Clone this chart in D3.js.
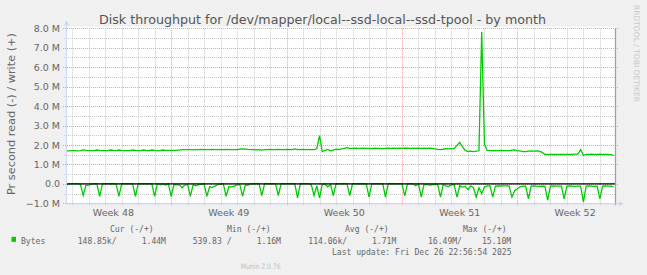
<!DOCTYPE html>
<html>
<head>
<meta charset="utf-8">
<script src="https://cdn.jsdelivr.net/npm/d3@7"></script>
<style>
  html, body { margin: 0; padding: 0; background: #f0f0f0; }
  svg { display: block; }
</style>
</head>
<body>
<div id="chart"></div>
<script>
//Samples every 4 hours, first one at 2025-11-23 16:00 UTC, values in MB/s
const sampleStart = Date.UTC(2025, 10, 23, 16);
const sampleStepHours = 4;

const writeValues = [
    1.71,1.70,1.71,1.71,1.70,1.71,1.75,1.72,1.71,1.71,
    1.71,1.74,1.72,1.71,1.71,1.71,1.74,1.72,1.71,1.74,
    1.72,1.71,1.71,1.71,1.74,1.72,1.71,1.71,1.74,1.71,
    1.71,1.74,1.72,1.71,1.71,1.74,1.72,1.72,1.72,1.72,
    1.72,1.74,1.76,1.76,1.76,1.76,1.75,1.76,1.76,1.77,
    1.76,1.76,1.76,1.77,1.76,1.76,1.76,1.76,1.77,1.76,
    1.76,1.76,1.76,1.79,1.80,1.79,1.77,1.76,1.76,1.75,
    1.76,1.74,1.76,1.76,1.77,1.76,1.76,1.77,1.76,1.76,
    1.77,1.76,1.76,1.80,1.76,1.76,1.77,1.76,1.76,1.76,
    1.76,1.80,2.48,1.66,1.72,1.77,1.70,1.74,1.78,1.76,
    1.80,1.82,1.86,1.82,1.82,1.83,1.82,1.82,1.83,1.82,
    1.82,1.81,1.83,1.82,1.82,1.81,1.82,1.83,1.82,1.84,
    1.82,1.83,1.82,1.84,1.83,1.82,1.83,1.82,1.84,1.82,
    1.83,1.82,1.83,1.82,1.80,1.77,1.76,1.78,1.81,1.80,
    1.81,1.82,1.98,2.14,1.90,1.72,1.66,1.68,1.66,1.68,
    1.70,7.82,2.05,1.72,1.71,1.71,1.71,1.71,1.72,1.71,
    1.71,1.71,1.74,1.75,1.70,1.70,1.66,1.66,1.68,1.69,
    1.68,1.69,1.68,1.62,1.52,1.52,1.51,1.51,1.52,1.51,
    1.51,1.52,1.51,1.52,1.52,1.53,1.53,1.76,1.47,1.51,
    1.52,1.53,1.52,1.52,1.53,1.52,1.52,1.51,1.50,1.46
];

//Read is drawn below zero
const readValues = [
    .05,0,0,0,0,.02,.59,.08,.06,.02,
    0,0,.64,0,0,0,0,0,.01,.64,
    0,0,0,0,0,.64,0,0,0,0,
    0,0,.64,0,.04,0,.06,0,.64,.04,
    .05,.05,.2,.06,.03,.64,.04,.1,.04,.03,
    0,.64,.15,.18,.12,.03,.02,0,.64,.15,
    .16,.12,.05,.03,.64,.06,.06,0,0,0,
    0,.6,0,0,0,0,0,.6,0,0,
    0,0,0,0,.72,0,0,0,0,.05,
    .6,.1,.72,.03,.02,.15,.03,.6,0,0,
    0,0,0,.6,0,0,0,0,0,0,
    .68,0,0,0,0,0,.68,0,0,0,
    0,0,0,.62,0,0,0,.1,0,.68,
    .03,.04,.06,.05,.03,.04,.68,.02,.12,.13,
    .05,.04,.68,.1,.17,.12,.3,.1,.2,.68,
    .2,.5,.15,.1,.1,.68,.12,.1,.11,.1,
    .1,.12,.68,.35,.25,.15,.12,.12,.77,.12,
    .1,.12,.13,.12,.13,.84,.12,.11,.12,.12,
    .12,.77,.12,.11,.12,.13,.12,.12,.93,.12,
    .11,.12,.13,.12,.77,.12,.11,.12,.12,.15
];

const yTicks = [-1, 0, 1, 2, 3, 4, 5, 6, 7, 8];
const yMinorTicks = [-0.5, 0.5, 1.5, 2.5, 3.5, 4.5, 5.5, 6.5, 7.5];

const legendHeaders = ["Cur (-/+)", "Min (-/+)", "Avg (-/+)", "Max (-/+)"];
const legendSeries = "Bytes";
const legendValues = ["148.85k/", "1.44M", "539.83 /", "1.16M", "114.06k/", "1.71M", "16.49M/", "15.10M"];
const lastUpdate = "Last update: Fri Dec 26 22:56:54 2025";

const titleText = "Disk throughput for /dev/mapper/local--ssd-local--ssd-tpool - by month";
const yLabel = "Pr second read (-) / write (+)";

const lineColor = "#00cc00";
const textColor = "#666666";
const axisColor = "#cfd6f8";

const width = 647, height = 275;
const plot = { left: 66, right: 615, top: 28.3, bottom: 203.3 };

const writeData = writeValues.map((v, i) => ({ t: new Date(sampleStart + i * sampleStepHours * 3600e3), v: v }));
const readData = readValues.map((v, i) => ({ t: new Date(sampleStart + i * sampleStepHours * 3600e3), v: -v }));

const svg = d3.select("#chart").append("svg")
    .attr("width", width)
    .attr("height", height)
    .style("font-family", "'DejaVu Sans', sans-serif");

svg.append("rect").attr("width", width).attr("height", height).attr("fill", "#f0f0f0");

var x = d3.scaleUtc()
    .domain([new Date(Date.UTC(2025, 10, 23, 15)), new Date(Date.UTC(2025, 11, 26, 22))])
    .range([plot.left, plot.right]);

var y = d3.scaleLinear()
    .domain([-1, 8])
    .range([plot.bottom, plot.top]);

//White canvas
svg.append("rect")
    .attr("x", plot.left).attr("y", plot.top - 1.5)
    .attr("width", plot.right - plot.left).attr("height", plot.bottom - plot.top + 1.5)
    .attr("fill", "#ffffff");

svg.append("clipPath").attr("id", "plotclip")
    .append("rect")
    .attr("x", plot.left).attr("y", plot.top - 4)
    .attr("width", plot.right - plot.left).attr("height", plot.bottom - plot.top + 4);

//Grid: minor (days, half millions) grey, major (weeks, millions) red
const days = d3.utcDay.range(x.domain()[0], x.domain()[1]);
const weeks = d3.utcSunday.range(x.domain()[0], x.domain()[1]);
const grid = svg.append("g").attr("fill", "none").attr("stroke-dasharray", "1,1");

grid.selectAll(".vminor").data(days.filter(d => d.getUTCDay() !== 0)).enter().append("line")
    .attr("x1", d => Math.round(x(d)) + 0.5).attr("x2", d => Math.round(x(d)) + 0.5)
    .attr("y1", plot.top).attr("y2", plot.bottom + 2)
    .attr("stroke", "#c8c8c8");

grid.selectAll(".hminor").data(yMinorTicks).enter().append("line")
    .attr("x1", plot.left - 2).attr("x2", plot.right)
    .attr("y1", d => Math.round(y(d)) + 0.5).attr("y2", d => Math.round(y(d)) + 0.5)
    .attr("stroke", "#c8c8c8");

grid.selectAll(".vmajor").data(weeks).enter().append("line")
    .attr("x1", d => Math.round(x(d)) + 0.5).attr("x2", d => Math.round(x(d)) + 0.5)
    .attr("y1", plot.top).attr("y2", plot.bottom + 3)
    .attr("stroke", "#eca0a0");

grid.selectAll(".hmajor").data(yTicks).enter().append("line")
    .attr("x1", plot.left - 3).attr("x2", plot.right + 4)
    .attr("y1", d => Math.round(y(d)) + 0.5).attr("y2", d => Math.round(y(d)) + 0.5)
    .attr("stroke", "#eca0a0");

//Series
var line = d3.line().x(d => x(d.t)).y(d => y(d.v));
const series = svg.append("g").attr("clip-path", "url(#plotclip)");
[writeData, readData].forEach(data => {
    series.append("path")
        .datum(data)
        .attr("fill", "none")
        .attr("stroke", lineColor)
        .attr("stroke-width", 1.3)
        .attr("d", line);
});

//Zero line
svg.append("line")
    .attr("x1", plot.left).attr("x2", plot.right)
    .attr("y1", y(0)).attr("y2", y(0))
    .attr("stroke", "#000").attr("stroke-width", 1.2);

//Right edge
svg.append("line")
    .attr("x1", plot.right + 0.5).attr("x2", plot.right + 0.5)
    .attr("y1", plot.top).attr("y2", plot.bottom + 2)
    .attr("stroke", "#a0a0a0").attr("stroke-width", 1.3);

//Axes with arrows
svg.append("line")
    .attr("x1", plot.left + 0.5).attr("x2", plot.left + 0.5)
    .attr("y1", plot.bottom + 1).attr("y2", plot.top - 5)
    .attr("stroke", axisColor);
svg.append("path")
    .attr("d", `M${plot.left - 2},${plot.top - 3} L${plot.left + 3},${plot.top - 3} L${plot.left + 0.5},${plot.top - 8} Z`)
    .attr("fill", axisColor);
svg.append("line")
    .attr("x1", plot.left).attr("x2", plot.right + 5)
    .attr("y1", plot.bottom + 0.5).attr("y2", plot.bottom + 0.5)
    .attr("stroke", axisColor);
svg.append("path")
    .attr("d", `M${plot.right + 4},${plot.bottom - 2} L${plot.right + 4},${plot.bottom + 3} L${plot.right + 9},${plot.bottom + 0.5} Z`)
    .attr("fill", axisColor);

//Y axis labels
svg.append("g")
    .attr("transform", `translate(${plot.left - 6}, 0)`)
    .call(d3.axisLeft(y).tickValues(yTicks).tickSize(0)
        .tickFormat(d => d === 0 ? "0.0" : d3.format(".1f")(d) + " M"))
    .call(g => g.select(".domain").remove())
    .call(g => g.selectAll("text")
        .attr("x", 0)
        .attr("fill", textColor)
        .style("font-family", "'DejaVu Sans', sans-serif")
        .style("font-size", "9.5px"));

//Week labels in the middle of each week
const weekMids = weeks.concat([d3.utcSunday.offset(weeks[0], -1)])
    .map(d => new Date(+d + 3.5 * 864e5))
    .filter(d => d > x.domain()[0] && d < x.domain()[1]);
svg.append("g").selectAll("text").data(weekMids).enter().append("text")
    .attr("x", d => x(d))
    .attr("y", 215.5)
    .attr("text-anchor", "middle")
    .attr("fill", textColor)
    .style("font-size", "9.5px")
    .text(d => "Week " + d3.utcFormat("%V")(d));

//Title
svg.append("text")
    .attr("x", 99).attr("y", 24)
    .attr("fill", "#555")
    .style("font-size", "12.5px")
    .attr("textLength", 447).attr("lengthAdjust", "spacingAndGlyphs")
    .text(titleText);

//Vertical axis title
svg.append("text")
    .attr("transform", "translate(15, 114) rotate(-90)")
    .attr("text-anchor", "middle")
    .attr("fill", textColor)
    .style("font-size", "10.5px")
    .attr("textLength", 162).attr("lengthAdjust", "spacingAndGlyphs")
    .text(yLabel);

//Watermark
svg.append("text")
    .attr("transform", "translate(634, 5) rotate(90)")
    .attr("fill", "#c8c8c8")
    .style("font-size", "7.5px")
    .attr("textLength", 97).attr("lengthAdjust", "spacingAndGlyphs")
    .text("RRDTOOL / TOBI OETIKER");

//Legend (condensed monospace)
function monoText(str, px, py) {
    svg.append("text")
        .attr("transform", `translate(${px}, ${py}) scale(0.85, 1)`)
        .attr("fill", textColor)
        .style("font-family", "'DejaVu Sans Mono', monospace")
        .style("font-size", "9.5px")
        .text(str);
}
const headerX = [110, 227, 345, 463];
legendHeaders.forEach((h, i) => monoText(h, headerX[i], 231.5));

svg.append("rect")
    .attr("x", 11.5).attr("y", 236.8).attr("width", 4.5).attr("height", 5)
    .attr("fill", lineColor);
monoText(legendSeries, 21, 243.5);
const valueX = [77.7, 141.7, 192.7, 256.7, 308.3, 372, 428, 482];
legendValues.forEach((v, i) => monoText(v, valueX[i], 243.5));
monoText(lastUpdate, 332, 255);

svg.append("text")
    .attr("x", 260.7).attr("y", 269)
    .attr("text-anchor", "middle")
    .attr("fill", "#c0c0c0")
    .style("font-size", "7.5px")
    .attr("textLength", 40).attr("lengthAdjust", "spacingAndGlyphs")
    .text("Munin 2.0.76");
</script>
</body>
</html>
